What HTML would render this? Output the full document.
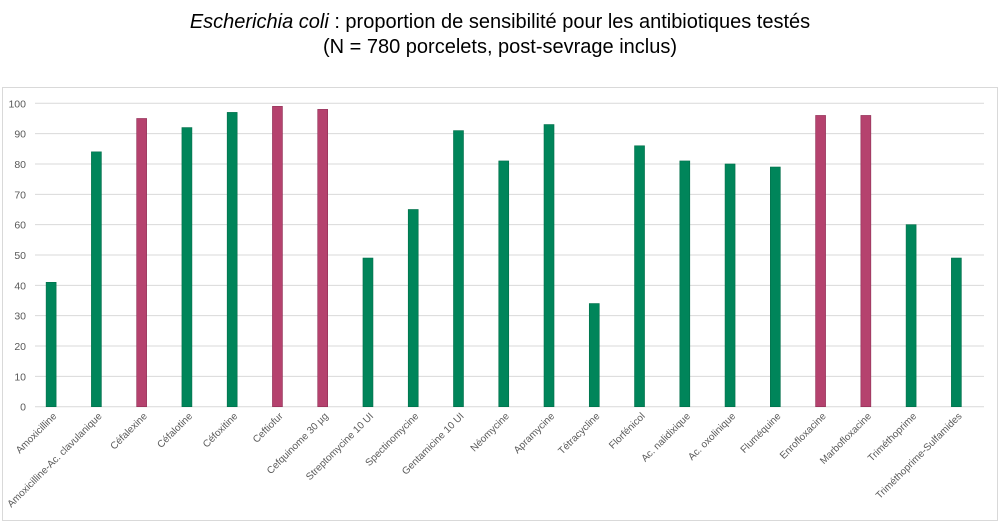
<!DOCTYPE html>
<html><head><meta charset="utf-8"><style>
body{margin:0;background:#fff;width:1000px;height:523px;overflow:hidden;font-family:"Liberation Sans",sans-serif}
#title{position:absolute;left:0;top:10px;width:1000px;text-align:center;font-size:20px;line-height:25px;color:#000}
#frame{position:absolute;left:2px;top:87px;width:996px;height:434px;border:1px solid #d9d9d9;box-sizing:border-box}
svg{position:absolute;left:0;top:0}
</style></head><body>
<div id="title"><i>Escherichia coli</i> : proportion de sensibilité pour les antibiotiques testés<br>(N = 780 porcelets, post-sevrage inclus)</div>
<div id="frame"></div>
<svg id="chart" width="1000" height="523"></svg>
<script>
const categories=["Amoxicilline","Amoxicilline-Ac. clavulanique","Céfalexine","Céfalotine","Céfoxitine","Ceftiofur","Cefquinome 30 µg","Streptomycine 10 UI","Spectinomycine","Gentamicine 10 UI","Néomycine","Apramycine","Tétracycline","Florfénicol","Ac. nalidixique","Ac. oxolinique","Fluméquine","Enrofloxacine","Marbofloxacine","Triméthoprime","Triméthoprime-Sulfamides"];
const values=[41,84,95,92,97,99,98,49,65,91,81,93,34,86,81,80,79,96,96,60,49];
const highlighted=[false,false,true,false,false,true,true,false,false,false,false,false,false,false,false,false,false,true,true,false,false];
const yTicks=[0,10,20,30,40,50,60,70,80,90,100];
const svg=document.getElementById('chart');const NS='http://www.w3.org/2000/svg';
const x0=28.5,x1=979,y0=406.7,y1=103.3;
const step=(x1-x0)/categories.length;
const xc=i=>x0+step*(i+0.5);
const y=v=>y0-(v/100)*(y0-y1);
function mk(t,a){const e=document.createElementNS(NS,t);for(const k in a)e.setAttribute(k,a[k]);svg.appendChild(e);return e;}
yTicks.forEach(t=>{
 const l=mk('line',{x1:35,x2:984,y1:y(t),y2:y(t),stroke:'#d9d9d9','stroke-width':1});
 
 
 const tx=mk('text',{x:26,y:y(t)+4,'text-anchor':'end','font-size':10.5,fill:'#595959','font-family':'Liberation Sans, sans-serif'});
 tx.textContent=t;
 
 
});
categories.forEach((c,i)=>{
 const r=mk('rect',{x:xc(i)-5,y:y(values[i]),width:10,height:y0-y(values[i]),fill:highlighted[i]?'#b5426e':'#00855a',stroke:highlighted[i]?'#8e2f55':'#006e49','stroke-width':0.6});
 
 
 const t=mk('text',{x:0,y:0,'text-anchor':'end','font-size':10,fill:'#595959','font-family':'Liberation Sans, sans-serif',transform:`translate(${xc(i)+6},${y0+10}) rotate(-45)`});
 t.textContent=c;
 
 
});
</script>
</body></html>
